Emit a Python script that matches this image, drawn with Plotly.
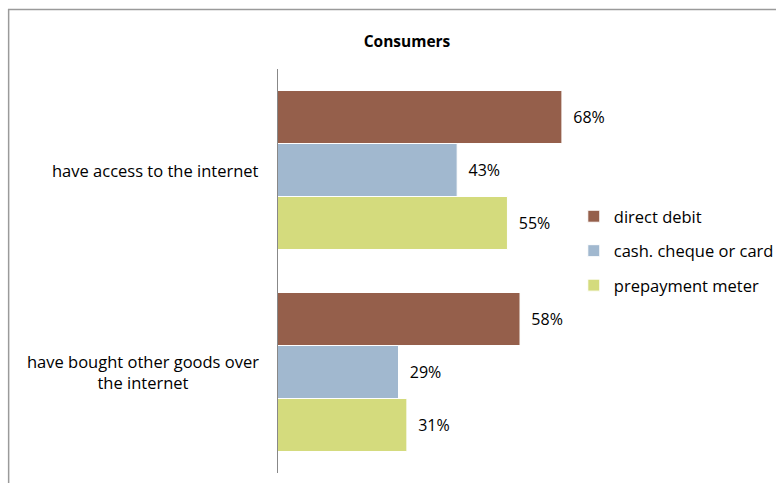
import plotly.graph_objects as go

# Survey results by payment method
categories = ["have access to the internet", "have bought other goods over the internet"]
category_labels = ["have access to the internet", "have bought other goods over<br>the internet"]
series_names = ["direct debit", "cash. cheque or card", "prepayment meter"]
direct_debit = [68, 58]
cash_cheque_card = [43, 29]
prepayment_meter = [55, 31]

colors = ["#955F4B", "#A1B8CF", "#D4DB7D"]
series_values = [direct_debit, cash_cheque_card, prepayment_meter]

FONT = "Open Sans, DejaVu Sans, sans-serif"
LABEL_SIZE = 16
TEXT_SIZE = 16.5

W, H = 776, 483
L, R, T, B = 276.5, 79.5, 69, 10
plot_w = W - L - R
plot_h = H - T - B

fig = go.Figure()
for name, vals, col in zip(series_names, series_values, colors):
    fig.add_trace(go.Bar(
        y=categories,
        x=vals,
        orientation="h",
        name=name,
        legendgroup=name,
        marker=dict(color=col, line=dict(color="white", width=1)),
        text=[f"{v}%" for v in vals],
        texttemplate="  %{text}",
        textposition="outside",
        textfont=dict(family=FONT, size=LABEL_SIZE, color="#000000"),
        cliponaxis=False,
        hoverinfo="skip",
    ))

# Category labels placed on the y axis scale
for cat, lab in zip(categories, category_labels):
    fig.add_annotation(
        x=0, y=cat, xref="x", yref="y",
        text=lab, showarrow=False,
        xanchor="right", yanchor="middle", align="center",
        xshift=-16,
        font=dict(family=FONT, size=TEXT_SIZE, color="#000000"),
    )

# Outer chart frame
def px_to_paper_x(px):
    return (px - L) / plot_w

def px_to_paper_y(py):
    return (H - B - py) / plot_h

fig.add_shape(
    type="rect", xref="paper", yref="paper",
    x0=px_to_paper_x(7.5), x1=px_to_paper_x(790),
    y0=px_to_paper_y(500), y1=px_to_paper_y(9.5),
    line=dict(color="#9a9a9a", width=1.5),
    fillcolor="rgba(0,0,0,0)", layer="below",
)

fig.update_layout(
    width=W, height=H,
    margin=dict(l=L, r=R, t=T, b=B, pad=0, autoexpand=False),
    paper_bgcolor="white",
    plot_bgcolor="white",
    barmode="group",
    bargap=0.213,
    bargroupgap=0,
    title=dict(
        text="<b>Consumers</b>",
        x=407 / W, xref="container", xanchor="center",
        y=1 - 42 / H, yref="container", yanchor="middle",
        font=dict(family=FONT, size=15.5, color="#000000"),
    ),
    xaxis=dict(range=[0, 100], visible=False, fixedrange=True),
    yaxis=dict(
        autorange="reversed",
        showticklabels=False,
        ticks="",
        showgrid=False,
        zeroline=False,
        showline=False,
    ),
    legend=dict(
        x=px_to_paper_x(574), xanchor="left",
        y=px_to_paper_y(251), yanchor="middle",
        xref="paper", yref="paper",
        traceorder="grouped",
        tracegroupgap=10,
        font=dict(family=FONT, size=TEXT_SIZE, color="#000000"),
        bgcolor="rgba(0,0,0,0)",
        itemwidth=30,
    ),
    showlegend=True,
)

# Vertical category axis line
fig.add_shape(
    type="line", xref="x", yref="paper",
    x0=0, x1=0, y0=0, y1=1,
    line=dict(color="#888888", width=2),
)

fig.write_html("out.html")
